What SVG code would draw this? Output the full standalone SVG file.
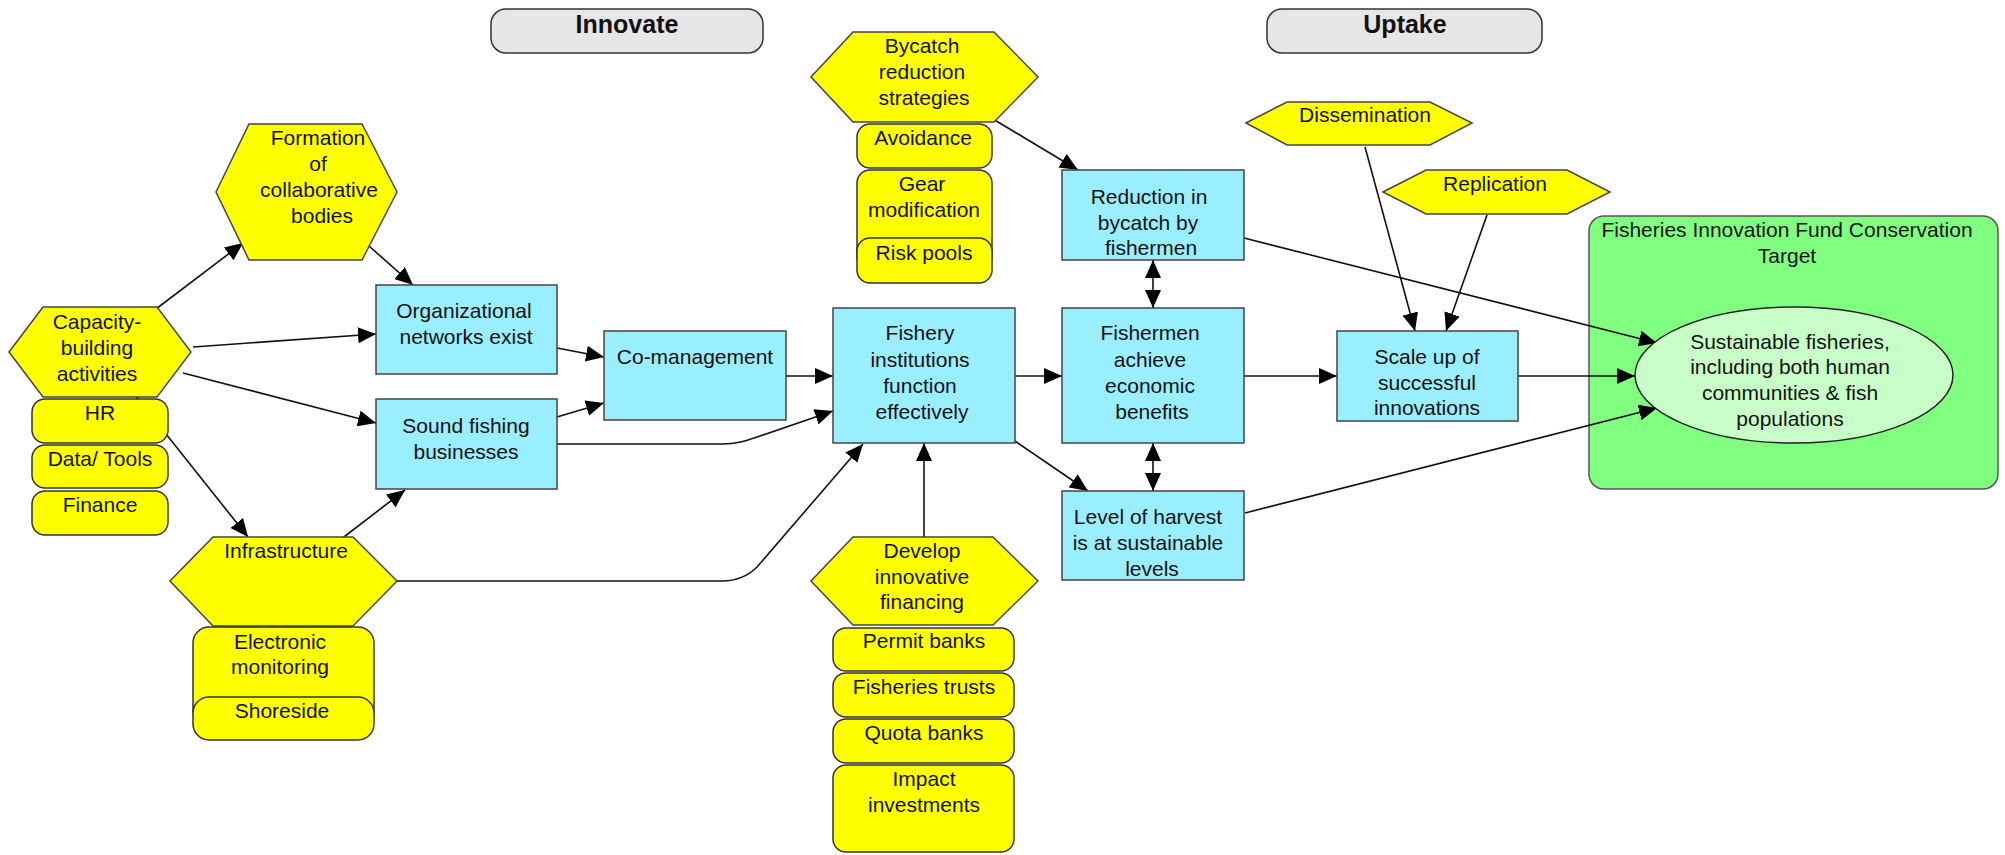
<svg xmlns="http://www.w3.org/2000/svg" width="2005" height="855" viewBox="0 0 2005 855">
  <defs>
    <style>
      text { font-family: "Liberation Sans", Arial, sans-serif; font-size: 21px; fill: #111; text-anchor: middle; }
      .hdr { fill: #e6e6e6; stroke: #333; stroke-width: 1.5; }
      .hdr-t { font-weight: bold; font-size: 25px; }
      .box { fill: #99eeff; stroke: #444; stroke-width: 1.5; }
      .hex { fill: #ffff00; stroke: #444; stroke-width: 1.5; }
      .sub { fill: #ffff00; stroke: #333; stroke-width: 1.5; }
      .zone { fill: #80ff80; stroke: #555; stroke-width: 1.5; }
      .goal { fill: #c8ffc8; stroke: #222; stroke-width: 1.5; }
      .edge { fill: none; stroke: #111; stroke-width: 1.6; marker-end: url(#arrow); }
      .both { marker-start: url(#arrow); }
    </style>
    <marker id="arrow" markerUnits="userSpaceOnUse" markerWidth="18" markerHeight="16" refX="18" refY="8" orient="auto-start-reverse">
      <path d="M0,0 L18,8 L0,16 z" fill="#000"/>
    </marker>
  </defs>

  <rect width="2005" height="855" fill="#fff"/>

  <!-- stage headers -->
  <g id="hdr-innovate">
    <rect class="hdr" x="491" y="9" width="272" height="44" rx="15"/>
    <text class="hdr-t" x="627" y="33">Innovate</text>
  </g>
  <g id="hdr-uptake">
    <rect class="hdr" x="1267" y="9" width="275" height="44" rx="15"/>
    <text class="hdr-t" x="1405" y="33">Uptake</text>
  </g>

  <!-- conservation target zone -->
  <g id="target-zone">
    <rect class="zone" x="1589" y="216" width="409" height="273" rx="15"/>
    <text x="1787" y="237">Fisheries Innovation Fund Conservation</text>
    <text x="1787" y="263">Target</text>
  </g>

  <!-- connectors -->
  <g id="connectors">
    <line class="edge" x1="152" y1="312" x2="243" y2="243"/>
    <line class="edge" x1="369" y1="246" x2="413" y2="285"/>
    <line class="edge" x1="193" y1="347" x2="376" y2="334"/>
    <line class="edge" x1="183" y1="373" x2="376" y2="423"/>
    <line class="edge" x1="135" y1="395" x2="248" y2="537"/>
    <line class="edge" x1="340" y1="540" x2="405" y2="490"/>
    <path class="edge" d="M397,581 L722,581 C738,581 748,576 757,567 L863,444"/>
    <path class="edge" d="M557,444 L722,444 C738,444 748,440 760,436 L833,411"/>
    <line class="edge" x1="557" y1="417" x2="604" y2="403"/>
    <line class="edge" x1="557" y1="348" x2="604" y2="357"/>
    <line class="edge" x1="786" y1="376" x2="833" y2="376"/>
    <line class="edge" x1="1015" y1="376" x2="1062" y2="376"/>
    <line class="edge" x1="1015" y1="441" x2="1088" y2="491"/>
    <line class="edge" x1="924" y1="537" x2="924" y2="443"/>
    <line class="edge both" x1="1153" y1="443" x2="1153" y2="491"/>
    <line class="edge both" x1="1153" y1="260" x2="1153" y2="308"/>
    <line class="edge" x1="988" y1="116" x2="1078" y2="170"/>
    <line class="edge" x1="1244" y1="238" x2="1657" y2="343"/>
    <line class="edge" x1="1244" y1="376" x2="1337" y2="376"/>
    <line class="edge" x1="1518" y1="376" x2="1635" y2="376"/>
    <line class="edge" x1="1245" y1="513" x2="1657" y2="408"/>
    <line class="edge" x1="1365" y1="147" x2="1415" y2="331"/>
    <line class="edge" x1="1487" y1="215" x2="1446" y2="331"/>
  </g>

  <!-- capacity building -->
  <g id="capacity">
    <polygon class="hex" points="9,352 43,307 157,307 191,352 157,397 43,397"/>
    <text x="97" y="329">Capacity-</text>
    <text x="97" y="355">building</text>
    <text x="97" y="381">activities</text>
  </g>
  <g id="cap-hr">
    <rect class="sub" x="32" y="399" width="136" height="44" rx="13"/>
    <text x="100" y="420">HR</text>
  </g>
  <g id="cap-data">
    <rect class="sub" x="32" y="445" width="136" height="43" rx="13"/>
    <text x="100" y="466">Data/ Tools</text>
  </g>
  <g id="cap-finance">
    <rect class="sub" x="32" y="491" width="136" height="44" rx="13"/>
    <text x="100" y="512">Finance</text>
  </g>

  <!-- collaborative bodies -->
  <g id="formation">
    <polygon class="hex" points="216,192 249,124 362,124 397,192 362,260 249,260"/>
    <text x="318" y="145">Formation</text>
    <text x="318" y="171">of</text>
    <text x="319" y="197">collaborative</text>
    <text x="322" y="223">bodies</text>
  </g>

  <!-- infrastructure -->
  <g id="infrastructure">
    <polygon class="hex" points="170,581 213,537 353,537 397,581 353,626 213,626"/>
    <text x="286" y="558">Infrastructure</text>
  </g>
  <g id="infra-monitoring">
    <rect class="sub" x="193" y="627" width="181" height="100" rx="16"/>
    <text x="280" y="649">Electronic</text>
    <text x="280" y="674">monitoring</text>
  </g>
  <g id="infra-shoreside">
    <rect class="sub" x="193" y="697" width="181" height="43" rx="16"/>
    <text x="282" y="718">Shoreside</text>
  </g>

  <!-- results chain -->
  <g id="org-networks">
    <rect class="box" x="376" y="285" width="181" height="89"/>
    <text x="464" y="318">Organizational</text>
    <text x="466" y="344">networks exist</text>
  </g>
  <g id="sound-fishing">
    <rect class="box" x="376" y="399" width="181" height="90"/>
    <text x="466" y="433">Sound fishing</text>
    <text x="466" y="459">businesses</text>
  </g>
  <g id="co-management">
    <rect class="box" x="604" y="331" width="182" height="89"/>
    <text x="695" y="364">Co-management</text>
  </g>
  <g id="fishery-institutions">
    <rect class="box" x="833" y="308" width="182" height="135"/>
    <text x="920" y="340">Fishery</text>
    <text x="920" y="367">institutions</text>
    <text x="920" y="393">function</text>
    <text x="922" y="419">effectively</text>
  </g>
  <g id="fishermen-benefits">
    <rect class="box" x="1062" y="308" width="182" height="135"/>
    <text x="1150" y="340">Fishermen</text>
    <text x="1150" y="367">achieve</text>
    <text x="1150" y="393">economic</text>
    <text x="1152" y="419">benefits</text>
  </g>
  <g id="bycatch-reduction">
    <rect class="box" x="1062" y="170" width="182" height="90"/>
    <text x="1149" y="204">Reduction in</text>
    <text x="1148" y="230">bycatch by</text>
    <text x="1151" y="255">fishermen</text>
  </g>
  <g id="harvest-level">
    <rect class="box" x="1062" y="491" width="182" height="89"/>
    <text x="1148" y="524">Level of harvest</text>
    <text x="1148" y="550">is at sustainable</text>
    <text x="1152" y="576">levels</text>
  </g>
  <g id="scale-up">
    <rect class="box" x="1337" y="331" width="181" height="90"/>
    <text x="1427" y="364">Scale up of</text>
    <text x="1427" y="390">successful</text>
    <text x="1427" y="415">innovations</text>
  </g>

  <!-- bycatch strategies -->
  <g id="bycatch-strategies">
    <polygon class="hex" points="811,77 853,32 994,32 1038,77 994,122 853,122"/>
    <text x="922" y="53">Bycatch</text>
    <text x="922" y="79">reduction</text>
    <text x="924" y="105">strategies</text>
  </g>
  <g id="byc-avoidance">
    <rect class="sub" x="857" y="124" width="135" height="44" rx="13"/>
    <text x="923" y="145">Avoidance</text>
  </g>
  <g id="byc-gear">
    <rect class="sub" x="857" y="170" width="135" height="100" rx="13"/>
    <text x="922" y="191">Gear</text>
    <text x="924" y="217">modification</text>
  </g>
  <g id="byc-risk">
    <rect class="sub" x="857" y="238" width="135" height="45" rx="13"/>
    <text x="924" y="260">Risk pools</text>
  </g>

  <!-- innovative financing -->
  <g id="financing">
    <polygon class="hex" points="811,581 853,537 993,537 1038,581 993,625 853,625"/>
    <text x="922" y="558">Develop</text>
    <text x="922" y="584">innovative</text>
    <text x="922" y="609">financing</text>
  </g>
  <g id="fin-permit">
    <rect class="sub" x="833" y="628" width="181" height="43" rx="13"/>
    <text x="924" y="648">Permit banks</text>
  </g>
  <g id="fin-trusts">
    <rect class="sub" x="833" y="673" width="181" height="44" rx="13"/>
    <text x="924" y="694">Fisheries trusts</text>
  </g>
  <g id="fin-quota">
    <rect class="sub" x="833" y="719" width="181" height="44" rx="13"/>
    <text x="924" y="740">Quota banks</text>
  </g>
  <g id="fin-impact">
    <rect class="sub" x="833" y="765" width="181" height="87" rx="13"/>
    <text x="924" y="786">Impact</text>
    <text x="924" y="812">investments</text>
  </g>

  <!-- uptake drivers -->
  <g id="dissemination">
    <polygon class="hex" points="1246,123 1287,102 1430,102 1472,123 1430,145 1287,145"/>
    <text x="1365" y="122">Dissemination</text>
  </g>
  <g id="replication">
    <polygon class="hex" points="1383,192 1426,170 1567,170 1610,192 1567,214 1426,214"/>
    <text x="1495" y="191">Replication</text>
  </g>

  <!-- goal -->
  <g id="sustainable-fisheries">
    <ellipse class="goal" cx="1794" cy="375" rx="159" ry="68"/>
    <text x="1790" y="349">Sustainable fisheries,</text>
    <text x="1790" y="374">including both human</text>
    <text x="1790" y="400">communities &amp; fish</text>
    <text x="1790" y="426">populations</text>
  </g>
</svg>
